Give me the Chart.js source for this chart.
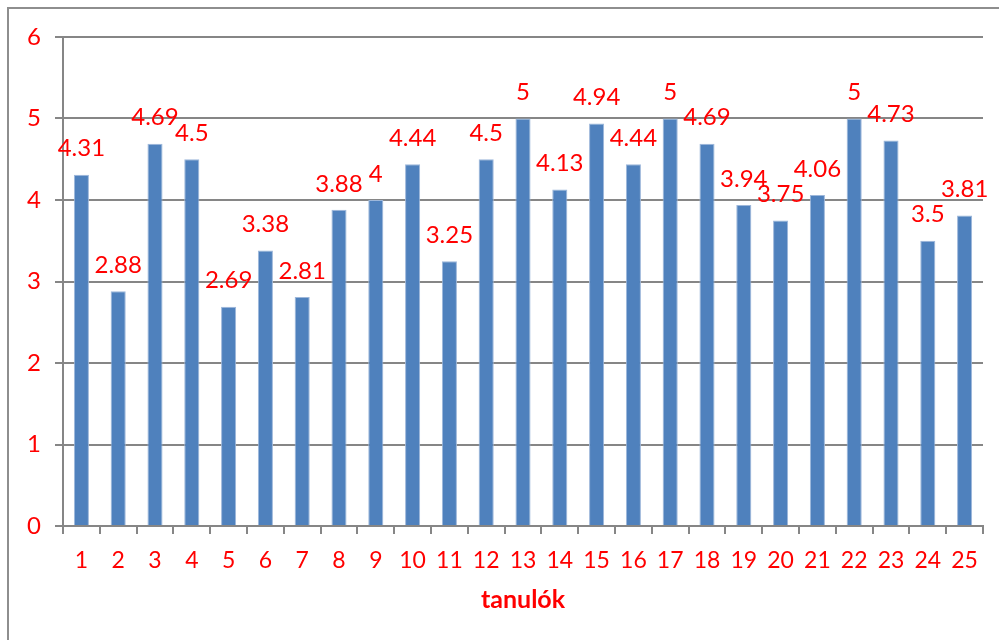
<!DOCTYPE html>
<html>
<head>
<meta charset="utf-8">
<script src="https://cdn.jsdelivr.net/npm/chart.js@4"></script>
<style>
  html, body { margin: 0; padding: 0; background: #fff; overflow: hidden; }
  #frame { position: absolute; left: 7px; top: 7px; width: 1100px; height: 800px; border: 2px solid #8e8e8e; }
  #wrap { position: absolute; left: 0; top: 0; width: 999px; height: 640px; }
</style>
</head>
<body>
<div id="frame"></div>
<div id="wrap"><canvas id="Bar"></canvas></div>
<script>
const students = ['1', '2', '3', '4', '5', '6', '7', '8', '9', '10', '11', '12', '13',
    '14', '15', '16', '17', '18', '19', '20', '21', '22', '23', '24', '25'];
const averages = [4.31, 2.88, 4.69, 4.5, 2.69, 3.38, 2.81, 3.88, 4, 4.44, 3.25, 4.5, 5,
    4.13, 4.94, 4.44, 5, 4.69, 3.94, 3.75, 4.06, 5, 4.73, 3.5, 3.81];
const yTicks = [0, 1, 2, 3, 4, 5, 6];

const red = '#FF0000';
const gridGray = '#868686';
const fontFamily = 'Lato, "Liberation Sans", sans-serif';

// value labels above each bar, like Excel "outside end"
const valueLabels = {
    id: 'valueLabels',
    afterDatasetsDraw(chart) {
        const ctx = chart.ctx;
        const meta = chart.getDatasetMeta(0);
        ctx.save();
        ctx.fillStyle = red;
        ctx.font = '24px ' + fontFamily;
        ctx.textAlign = 'center';
        ctx.textBaseline = 'middle';
        meta.data.forEach((bar, i) => {
            ctx.fillText(String(averages[i]), bar.x, bar.y - 26);
        });
        ctx.restore();
    }
};

const Bar = document.getElementById('Bar');

new Chart(Bar, {
    type: 'bar',
    data: {
        labels: students,
        datasets: [
            {
                label: 'átlag',
                data: averages,
                backgroundColor: '#4F81BD',
                borderColor: '#9db7da',
                borderWidth: 1,
                categoryPercentage: 1,
                barPercentage: 0.41
            }
        ]
    },
    options: {
        responsive: true,
        maintainAspectRatio: false,
        animation: false,
        devicePixelRatio: 1,
        layout: {
            padding: { top: 37, right: 16, bottom: 0, left: 0 }
        },
        scales: {
            x: {
                afterFit: (scale) => { scale.height = 114; },
                grid: {
                    drawOnChartArea: false,
                    drawTicks: true,
                    tickLength: 8,
                    color: gridGray,
                    lineWidth: 2
                },
                border: { color: gridGray, width: 2 },
                ticks: {
                    color: red,
                    padding: 13,
                    maxRotation: 0,
                    autoSkip: false,
                    font: { family: fontFamily, size: 23 }
                },
                title: {
                    display: true,
                    text: 'tanulók',
                    color: red,
                    padding: { top: 0, bottom: 25 },
                    font: { family: fontFamily, size: 25, weight: 'bold' }
                }
            },
            y: {
                min: 0,
                max: 6,
                afterFit: (scale) => { scale.width = 63; },
                afterBuildTicks: (scale) => { scale.ticks = yTicks.map(v => ({ value: v })); },
                grid: {
                    color: gridGray,
                    lineWidth: 2,
                    tickLength: 8
                },
                border: { color: gridGray, width: 2 },
                ticks: {
                    color: red,
                    padding: 14,
                    font: { family: fontFamily, size: 24 }
                }
            }
        },
        plugins: {
            legend: { display: false },
            title: { display: false },
            tooltip: { enabled: false }
        }
    },
    plugins: [valueLabels]
});
</script>
</body>
</html>
